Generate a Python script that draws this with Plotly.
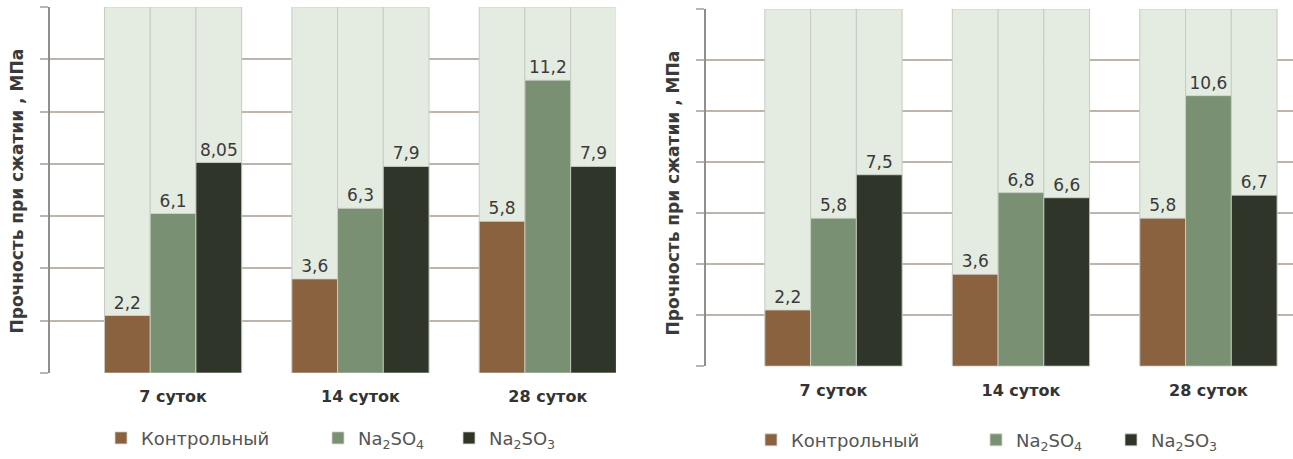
import plotly.graph_objects as go

# Compressive strength, MPa, by curing age
categories = ["7 суток", "14 суток", "28 суток"]
series_names = ["Контрольный", "Na<sub>2</sub>SO<sub>4</sub>", "Na<sub>2</sub>SO<sub>3</sub>"]

left_control = [2.2, 3.6, 5.8]
left_na2so4 = [6.1, 6.3, 11.2]
left_na2so3 = [8.05, 7.9, 7.9]

right_control = [2.2, 3.6, 5.8]
right_na2so4 = [5.8, 6.8, 10.6]
right_na2so3 = [7.5, 6.6, 6.7]

y_max = 14
y_step = 2
y_title = "Прочность при сжатии , МПа"

colors = ["#8A6240", "#7A9072", "#2F3629"]
column_bg = "#E4ECE2"
grid_color = "#BDB5AC"
text_color = "#3A3A3A"
font_family = "DejaVu Sans, sans-serif"

W, H = 1293, 459
bar_w = 0.244
offsets = [-1.5 * bar_w, -0.5 * bar_w, 0.5 * bar_w]
xpos = list(range(len(categories)))


def fmt(v):
    return f"{v:g}".replace(".", ",")


panels = [
    dict(series=[left_control, left_na2so4, left_na2so3], xa="x", ya="y",
         legends=["legend", "legend2", "legend3"]),
    dict(series=[right_control, right_na2so4, right_na2so3], xa="x2", ya="y2",
         legends=["legend4", "legend5", "legend6"]),
]

fig = go.Figure()

for p in panels:
    # pale full-height columns behind every bar
    for i in range(3):
        fig.add_trace(go.Bar(
            x=xpos, y=[y_max] * len(xpos), offset=offsets[i], width=bar_w,
            marker=dict(color=column_bg, line=dict(color="#C6CBC2", width=1)),
            xaxis=p["xa"], yaxis=p["ya"], showlegend=False, hoverinfo="skip",
        ))
    for i, vals in enumerate(p["series"]):
        fig.add_trace(go.Bar(
            x=xpos, y=vals, offset=offsets[i], width=bar_w,
            name=series_names[i],
            marker=dict(color=colors[i], line=dict(color="#D2D6CE", width=0.8)),
            text=[fmt(v) for v in vals], textposition="outside",
            textfont=dict(size=17, color=text_color, family=font_family),
            cliponaxis=False,
            xaxis=p["xa"], yaxis=p["ya"], legend=p["legends"][i],
        ))

xaxis_common = dict(
    tickmode="array", tickvals=xpos, ticktext=categories,
    tickfont=dict(size=16, color="#333333", family=font_family, weight=700),
    showgrid=False, zeroline=False, showline=False, ticks="",
)
yaxis_common = dict(
    range=[0, y_max], dtick=y_step, tick0=0, showticklabels=False,
    showgrid=True, gridcolor=grid_color, gridwidth=2,
    ticks="outside", ticklen=8, tickcolor=grid_color, tickwidth=2,
    showline=True, linecolor="#8E8E8E", linewidth=1.5,
    zeroline=False,
)

legend_common = dict(
    orientation="h", bgcolor="rgba(0,0,0,0)", yanchor="middle", xanchor="left",
    font=dict(size=18, color="#555555", family=font_family),
)

layout_legends = {}
left_sym = [127, 344, 475]
right_sym = [777, 1002, 1137]
for k, cx in enumerate(left_sym + right_sym):
    key = "legend" if k == 0 else f"legend{k + 1}"
    cy = 444 if k < 3 else 446
    layout_legends[key] = dict(legend_common, x=(cx - 26) / W, y=1 - cy / H)

title_font = dict(size=17, color="#3A3A3A", family=font_family, weight=700)

fig.update_layout(
    width=W, height=H,
    margin=dict(l=0, r=0, t=0, b=0),
    paper_bgcolor="white", plot_bgcolor="white",
    barmode="overlay",
    showlegend=True,
    xaxis=dict(xaxis_common, domain=[50 / W, 616 / W], range=[-0.657, 2.364],
               ticklabelstandoff=12),
    yaxis=dict(yaxis_common, domain=[1 - 378 / H, 1 - 7 / H], anchor="x"),
    xaxis2=dict(xaxis_common, domain=[706 / W, 1.0], range=[-0.68, 2.451], anchor="y2",
                ticklabelstandoff=13),
    yaxis2=dict(yaxis_common, domain=[1 - 371 / H, 1 - 9 / H], anchor="x2"),
    annotations=[
        dict(text=y_title, xref="paper", yref="paper", x=17 / W, y=1 - 194 / H,
             textangle=-90, showarrow=False, xanchor="center", yanchor="middle",
             font=title_font),
        dict(text=y_title, xref="paper", yref="paper", x=673 / W, y=1 - 196 / H,
             textangle=-90, showarrow=False, xanchor="center", yanchor="middle",
             font=title_font),
    ],
    **layout_legends,
)

fig.write_html("out.html")
